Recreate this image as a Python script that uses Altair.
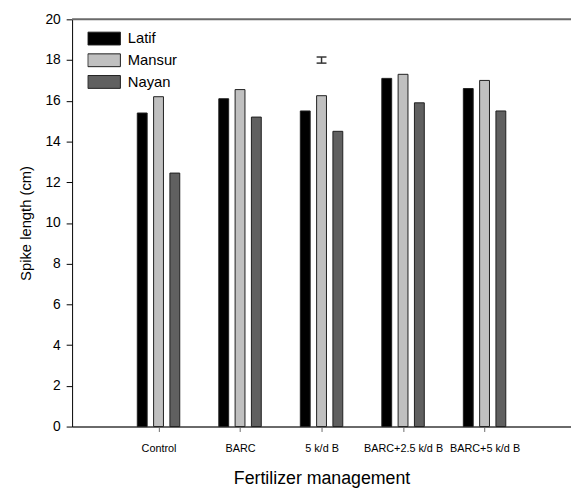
import altair as alt
import pandas as pd

categories = ["Control", "BARC", "5 k/d B", "BARC+2.5 k/d B", "BARC+5 k/d B"]
series = ["Latif", "Mansur", "Nayan"]
latif = [15.4, 16.1, 15.5, 17.1, 16.6]
mansur = [16.2, 16.55, 16.25, 17.3, 17.0]
nayan = [12.45, 15.2, 14.5, 15.9, 15.5]
colors = ["#000000", "#c0c0c0", "#606060"]

# single error bar (LSD) above "5 k/d B"
err_cat = "5 k/d B"
err_lo = [17.85]
err_hi = [18.15]
y_max = 20

rows = []
for i, c in enumerate(categories):
    for j, (s, vals) in enumerate(zip(series, [latif, mansur, nayan])):
        rows.append({"pos": i + 1 + (j - 1) * 0.2, "series": s, "value": vals[i], "cat": c})
df = pd.DataFrame(rows)

err_df = pd.DataFrame({"pos": [categories.index(err_cat) + 1], "value": err_lo, "value2": err_hi})
top_df = pd.DataFrame({"value": [y_max]})

label_expr = " : ".join(
    [f"datum.value == {i + 1} ? '{c}'" for i, c in enumerate(categories)]
) + " : ''"

font = "Liberation Sans"

xscale = alt.Scale(domain=[0, 6], nice=False, zero=False)
yscale = alt.Scale(domain=[0, 20], nice=False)

x_axis = alt.Axis(values=[1, 2, 3, 4, 5], labelExpr=label_expr, grid=False,
                  domainColor="#6a6a6a", domainWidth=2, tickColor="#6a6a6a",
                  tickSize=5, tickWidth=1, labelFontSize=11, labelPadding=11,
                  labelColor="#000000", labelFont=font, titleFont=font,
                  titleFontSize=18, titleFontWeight="normal", titleColor="#000000",
                  titlePadding=17, labelFlush=False)
y_axis = alt.Axis(values=list(range(0, 21, 2)), grid=False, domainColor="#000000",
                  domainWidth=1, tickColor="#000000", tickSize=6, labelFontSize=14,
                  labelPadding=6, labelColor="#000000", labelFont=font,
                  titleFont=font, titleFontSize=15, titleFontWeight="normal",
                  titleColor="#000000", titlePadding=12)

X = lambda f: alt.X(f, scale=xscale, title="Fertilizer management", axis=x_axis)
Y = lambda f: alt.Y(f, scale=yscale, title="Spike length (cm)", axis=y_axis)

bars = alt.Chart(df).mark_bar(size=10, stroke="#1e1e1e", strokeWidth=1, opacity=1).encode(
    x=X("pos:Q"),
    y=Y("value:Q"),
    color=alt.Color("series:N", scale=alt.Scale(domain=series, range=colors),
                    legend=alt.Legend(title=None, orient="none", legendX=15.5, legendY=10.5,
                                      symbolType="M-1,-0.394H1V0.394H-1Z", symbolSize=1089,
                                      symbolStrokeColor="#1e1e1e", symbolStrokeWidth=1,
                                      symbolOpacity=1, clipHeight=18, rowPadding=4,
                                      labelOffset=7, labelFontSize=15, labelFont=font,
                                      labelColor="#000000", padding=0)),
)

top_line = alt.Chart(top_df).mark_rule(color="#6a6a6a", strokeWidth=2).encode(
    y=Y("value:Q"),
)

rule = alt.Chart(err_df).mark_rule(color="#333333", strokeWidth=1.5).encode(
    x=X("pos:Q"),
    y=Y("value:Q"),
    y2="value2:Q",
)
cap_lo = alt.Chart(err_df).mark_tick(orient="horizontal", size=10, thickness=1.5,
                                      color="#333333", opacity=1).encode(
    x=X("pos:Q"),
    y=Y("value:Q"),
)
cap_hi = alt.Chart(err_df).mark_tick(orient="horizontal", size=10, thickness=1.5,
                                      color="#333333", opacity=1).encode(
    x=X("pos:Q"),
    y=Y("value2:Q"),
)

chart = alt.layer(bars, top_line, rule, cap_lo, cap_hi).properties(
    width=506, height=413,
    autosize=alt.AutoSizeParams(type="none"),
    padding={"left": 65, "top": 8, "right": 0, "bottom": 72},
    background="#ffffff",
).configure_view(stroke=None)

chart.save("out.html", embed_options={"renderer": "svg", "actions": False})
